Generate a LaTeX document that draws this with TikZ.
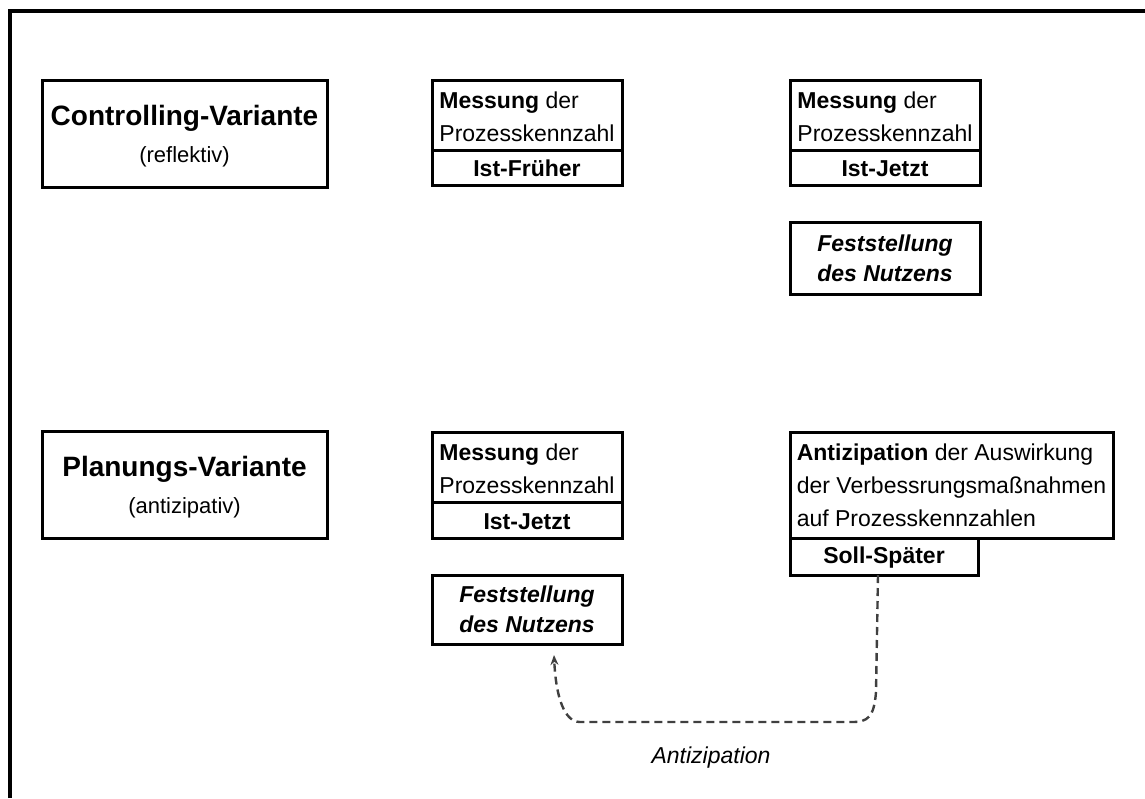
\documentclass[tikz,border=0pt]{standalone}
\usepackage{fontspec}
\setmainfont{Liberation Sans}
\usetikzlibrary{arrows.meta,calc}
\tikzset{
  box/.style={draw, line width=3pt, rectangle, inner sep=0pt, outer sep=0pt, anchor=north west},
  txt/.style={font=\fontsize{23}{33}\selectfont, align=left},
  boldtxt/.style={font=\fontsize{23}{33}\selectfont\bfseries},
  feststyle/.style={font=\fontsize{23}{30}\selectfont\bfseries\itshape, align=center},
  variant/.style={font=\fontsize{22}{37}\selectfont, align=center},
  dashedarrow/.style={line width=2.4pt, black!75, dash pattern=on 8pt off 5pt, -{Stealth[length=10pt,width=8pt]}},
}
\begin{document}
\begin{tikzpicture}[x=1pt,y=-1pt]
\useasboundingbox (0,0) rectangle (1145,798);
% frame
\draw[line width=3.5pt] (10,798) -- (10,11) -- (1145,11);

% Controlling row
\node[box, variant, minimum width=285pt, minimum height=107pt] (cv) at (42,80)
  {\rule{0pt}{26pt}{\fontsize{28}{37}\selectfont\bfseries Controlling-Variante}\\(reflektiv)};
\node[box, txt, minimum width=190pt, minimum height=70pt] (m1) at (432,80)
  {\rule{0pt}{20pt}\textbf{Messung} der\\Prozesskennzahl};
\node[box, boldtxt, minimum width=190pt, minimum height=35pt] (i1) at (m1.south west) {\rule{0pt}{19pt}Ist-Früher};
\node[box, txt, minimum width=190pt, minimum height=70pt] (m2) at (790,80)
  {\rule{0pt}{20pt}\textbf{Messung} der\\Prozesskennzahl};
\node[box, boldtxt, minimum width=190pt, minimum height=35pt] (i2) at (m2.south west) {\rule{0pt}{19pt}Ist-Jetzt};
\node[box, feststyle, minimum width=190pt, minimum height=72pt] (f1) at (790,222)
  {Feststellung\\des Nutzens};

% Planungs row
\node[box, variant, minimum width=285pt, minimum height=107pt] (pv) at (42,431)
  {\rule{0pt}{25pt}{\fontsize{28}{37}\selectfont\bfseries Planungs-Variante}\\(antizipativ)};
\node[box, txt, minimum width=190pt, minimum height=70pt] (m3) at (432,432)
  {\rule{0pt}{20pt}\textbf{Messung} der\\Prozesskennzahl};
\node[box, boldtxt, minimum width=190pt, minimum height=36pt] (i3) at (m3.south west) {\rule{0pt}{19pt}Ist-Jetzt};
\node[box, txt, minimum width=323pt, minimum height=106pt] (a1) at (790,432)
  {\textbf{Antizipation} der Auswirkung\\der Verbessrungsmaßnahmen\\auf Prozesskennzahlen};
\node[box, boldtxt, minimum width=188pt, minimum height=37pt] (s1) at (a1.south west) {\rule{0pt}{19pt}Soll-Später};
\node[box, feststyle, minimum width=190pt, minimum height=69pt] (f2) at (432,575)
  {Feststellung\\des Nutzens};

% anticipation arrow
\draw[dashedarrow] ($(s1.south west)+(88,0)$) -- ($(s1.south west)+(86,117)$)
  .. controls ($(s1.south west)+(84,142)$) and ($(s1.south west)+(78,147)$) .. ($(s1.south west)+(62,147)$)
  -- ($(f2.south west)+(148,78)$)
  .. controls ($(f2.south west)+(133,78)$) and ($(f2.south west)+(124,55)$) .. ($(f2.south west)+(122,11)$);
\node[font=\fontsize{23}{28}\selectfont\itshape, anchor=base] (lab) at (711,763) {Antizipation};
\end{tikzpicture}
\end{document}
